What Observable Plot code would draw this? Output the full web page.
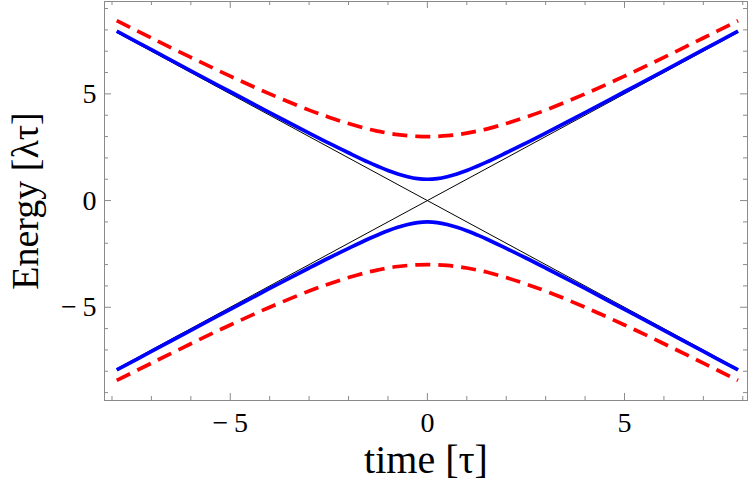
<!DOCTYPE html>
<html>
<head>
<meta charset="utf-8">
<script src="https://cdn.jsdelivr.net/npm/d3@7"></script>
<script src="https://cdn.jsdelivr.net/npm/@observablehq/plot@0.6"></script>
<style>
  html, body { margin: 0; padding: 0; background: #fff; }
  #chart svg { display: block; }
</style>
</head>
<body>
<div id="chart"></div>
<script>
// time samples
const time = [-7.88, -7, -6, -5, -4, -3, -2.5, -2, -1.5, -1.25, -1, -0.75, -0.5, -0.25, 0,
              0.25, 0.5, 0.75, 1, 1.25, 1.5, 2, 2.5, 3, 4, 5, 6, 7, 7.88];
// blue solid curves (upper / lower branch)
const blueUpper = [7.94, 7.07, 6.08, 5.10, 4.12, 3.16, 2.69, 2.24, 1.80, 1.60, 1.41, 1.25, 1.12, 1.03, 1.00,
                   1.03, 1.12, 1.25, 1.41, 1.60, 1.80, 2.24, 2.69, 3.16, 4.12, 5.10, 6.08, 7.07, 7.94];
const blueLower = [-7.94, -7.07, -6.08, -5.10, -4.12, -3.16, -2.69, -2.24, -1.80, -1.60, -1.41, -1.25, -1.12, -1.03, -1.00,
                   -1.03, -1.12, -1.25, -1.41, -1.60, -1.80, -2.24, -2.69, -3.16, -4.12, -5.10, -6.08, -7.07, -7.94];
// red dashed curves (upper / lower branch)
const redUpper = [8.43, 7.62, 6.71, 5.83, 5.00, 4.24, 3.91, 3.61, 3.35, 3.25, 3.16, 3.09, 3.04, 3.01, 3.00,
                  3.01, 3.04, 3.09, 3.16, 3.25, 3.35, 3.61, 3.91, 4.24, 5.00, 5.83, 6.71, 7.62, 8.43];
const redLower = [-8.43, -7.62, -6.71, -5.83, -5.00, -4.24, -3.91, -3.61, -3.35, -3.25, -3.16, -3.09, -3.04, -3.01, -3.00,
                  -3.01, -3.04, -3.09, -3.16, -3.25, -3.35, -3.61, -3.91, -4.24, -5.00, -5.83, -6.71, -7.62, -8.43];
// thin black diagonals (endpoints)
const diagTime = [-7.88, 7.88];
const diagUp = [-7.88, 7.88];
const diagDown = [7.88, -7.88];

const xMajor = [-5, 0, 5];
const xMinor = [-8, -7, -6, -4, -3, -2, -1, 1, 2, 3, 4, 6, 7, 8];
const yMajor = [-5, 0, 5];
const yMinor = [-9, -8, -7, -6, -4, -3, -2, -1, 1, 2, 3, 4, 6, 7, 8, 9];
const xDomain = [-8.19, 8.12];
const yDomain = [-9.37, 9.33];
const xLabel = "time [τ]";
const yLabel = "Energy [λτ]";

const W = 750, H = 498;
const mTop = 1, mBottom = 98, mLeft = 104, mRight = 3;
const plotH = H - mTop - mBottom;
const plotW = W - mLeft - mRight;
const font = "'Liberation Serif', 'Times New Roman', serif";
const fmt = d => d < 0 ? "\u2212\u2009" + (-d) : String(d);

const rows = ys => time.map((t, i) => ({t, v: ys[i]}));
const diag = ys => diagTime.map((t, i) => ({t, v: ys[i]}));

const majorLen = 7, minorLen = 4;
const tickColor = "#8a8a8a";

const chart = Plot.plot({
  width: W,
  height: H,
  marginTop: mTop,
  marginBottom: mBottom,
  marginLeft: mLeft,
  marginRight: mRight,
  style: {background: "#fff", fontFamily: font},
  x: {domain: xDomain},
  y: {domain: yDomain},
  marks: [
    // ticks on all four sides, pointing inward
    Plot.tickX(xMajor, {x: d => d, insetTop: plotH - majorLen, stroke: tickColor}),
    Plot.tickX(xMinor, {x: d => d, insetTop: plotH - minorLen, stroke: tickColor}),
    Plot.tickX(xMajor, {x: d => d, insetBottom: plotH - majorLen, stroke: tickColor}),
    Plot.tickX(xMinor, {x: d => d, insetBottom: plotH - minorLen, stroke: tickColor}),
    Plot.tickY(yMajor, {y: d => d, insetRight: plotW - majorLen, stroke: tickColor}),
    Plot.tickY(yMinor, {y: d => d, insetRight: plotW - minorLen, stroke: tickColor}),
    Plot.tickY(yMajor, {y: d => d, insetLeft: plotW - majorLen, stroke: tickColor}),
    Plot.tickY(yMinor, {y: d => d, insetLeft: plotW - minorLen, stroke: tickColor}),
    Plot.axisX({ticks: xMajor, tickSize: 0, tickPadding: 12, tickFormat: fmt, fontSize: 28, fontFamily: font, label: null}),
    Plot.axisY({ticks: yMajor, tickSize: 0, tickPadding: 8, tickFormat: fmt, fontSize: 28, fontFamily: font, label: null}),
    // curves
    Plot.line(diag(diagUp), {x: "t", y: "v", stroke: "#000", strokeWidth: 1}),
    Plot.line(diag(diagDown), {x: "t", y: "v", stroke: "#000", strokeWidth: 1}),
    Plot.line(rows(blueUpper), {x: "t", y: "v", stroke: "#0000ff", strokeWidth: 3.7, curve: "catmull-rom", strokeLinecap: "butt"}),
    Plot.line(rows(blueLower), {x: "t", y: "v", stroke: "#0000ff", strokeWidth: 3.7, curve: "catmull-rom", strokeLinecap: "butt"}),
    Plot.line(rows(redUpper), {x: "t", y: "v", stroke: "#ff0000", strokeWidth: 3.7, strokeDasharray: "15,8", curve: "catmull-rom", strokeLinecap: "butt"}),
    Plot.line(rows(redLower), {x: "t", y: "v", stroke: "#ff0000", strokeWidth: 3.7, strokeDasharray: "15,8", curve: "catmull-rom", strokeLinecap: "butt"}),
    Plot.frame({stroke: tickColor}),
    // axis titles
    Plot.text([xLabel], {text: d => d, frameAnchor: "bottom", textAnchor: "middle", dy: 72, fontSize: 40, fontFamily: font, fill: "#000"}),
    Plot.text([yLabel], {text: d => d, frameAnchor: "left", textAnchor: "middle", dx: -79, rotate: -90, fontSize: 38, fontFamily: font, fill: "#000"})
  ]
});
document.getElementById("chart").appendChild(chart);
</script>
</body>
</html>
